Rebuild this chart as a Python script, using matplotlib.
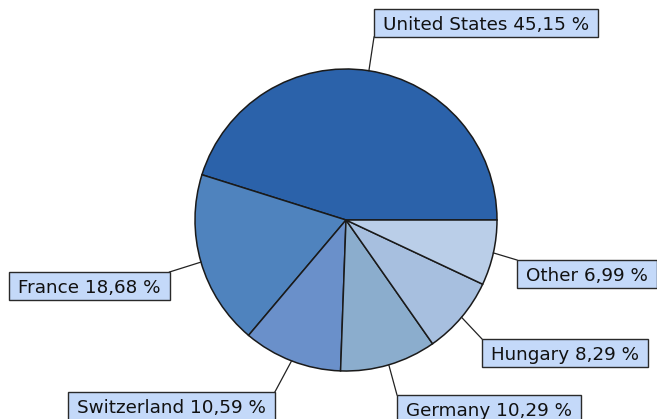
import numpy as np
import matplotlib.pyplot as plt
from matplotlib.patches import Rectangle

# Données
countries = ['United States', 'France', 'Switzerland', 'Germany', 'Hungary', 'Other']
shares = [45.15, 18.68, 10.59, 10.29, 8.29, 6.99]
colors = ['#2b62aa', '#4f83be', '#6a90ca', '#8badcd', '#a7bfdf', '#bacee8']

# Boîtes des étiquettes : coin haut-gauche en pixels, coin relié au trait
box_pos = [(374, 9), (9, 272), (68, 392), (397, 395), (482, 339), (517, 260)]
box_hook = ['bl', 'tr', 'tr', 'tl', 'tl', 'tl']

W, H = 657, 419
cx, cy, r = 346, 220, 151
pad_x, box_h = 9, 28

def py(y):
    return H - y

fig = plt.figure(figsize=(W / 100, H / 100), dpi=100)
ax = fig.add_axes([0, 0, 1, 1])

wedges, _ = ax.pie(shares, colors=colors, startangle=0, counterclock=True,
                   center=(cx, py(cy)), radius=r,
                   wedgeprops=dict(edgecolor='#1a1a1a', linewidth=1.1))

ax.set_xlim(0, W)
ax.set_ylim(0, H)
ax.set_aspect('equal')
ax.axis('off')

renderer = fig.canvas.get_renderer()
for w, name, val, (bx, by), hook in zip(wedges, countries, shares, box_pos, box_hook):
    txt = f"{name} {val:.2f} %".replace('.', ',')
    t = ax.text(bx + pad_x, py(by + box_h / 2), txt, ha='left', va='center_baseline',
                fontsize=13.2, family='DejaVu Sans', color='#111111', zorder=4)
    bb = t.get_window_extent(renderer)
    bw = bb.width + 2 * pad_x
    ax.add_patch(Rectangle((bx, py(by + box_h)), bw, box_h, fc='#c4d9f9',
                           ec='#2a2a2a', lw=1.0, zorder=3))
    kx = bx if hook[1] == 'l' else bx + bw
    ky = by if hook[0] == 't' else by + box_h
    mid = np.deg2rad((w.theta1 + w.theta2) / 2)
    ex = cx + r * np.cos(mid)
    ey = py(cy) + r * np.sin(mid)
    ax.plot([ex, kx], [ey, py(ky)], color='#222222', lw=0.9, zorder=1)

fig.savefig('out.png', dpi=100)
